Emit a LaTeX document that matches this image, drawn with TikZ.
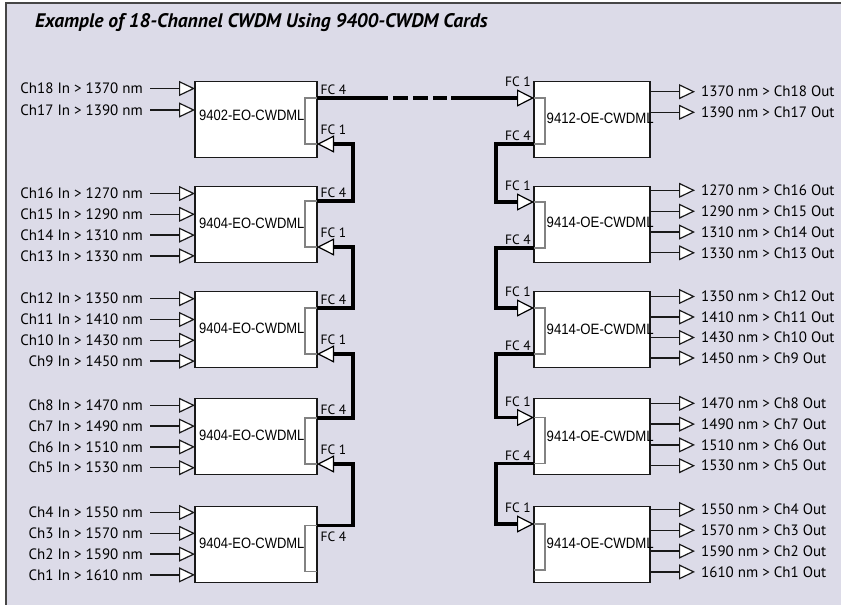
\documentclass[tikz,border=0pt]{standalone}
\usepackage{fontspec}
\setmainfont{PT Sans}
\newfontfamily\arl{Liberation Sans}
\usetikzlibrary{arrows.meta}
\definecolor{bgc}{RGB}{220,219,232}
\definecolor{portc}{RGB}{130,130,130}
\definecolor{linec}{RGB}{25,25,25}
\definecolor{framec}{RGB}{70,70,70}
\begin{document}
\begin{tikzpicture}[x=1pt,y=-1pt,
  lcard/.style={draw=linec,fill=white,line width=1.4pt,minimum width=122pt,minimum height=76pt,inner sep=0pt,outer sep=0pt,anchor=north west},
  rcard/.style={lcard,minimum width=116pt},
  lport/.style={minimum width=12pt,minimum height=46pt,inner sep=0pt,outer sep=0pt,anchor=north west},
  rport/.style={lport,minimum width=11pt},
  portline/.style={draw=portc,line width=1.2pt},
  cardtxt/.style={font=\arl\fontsize{15}{15}\selectfont,inner sep=0pt,anchor=base west},
  chtxt/.style={font=\fontsize{15}{16}\selectfont,inner sep=0pt},
  fctxt/.style={font=\fontsize{13.5}{14}\selectfont,inner sep=0pt},
  inarr/.style={draw=linec,line width=1.3pt,-{Triangle[fill=white,length=16pt,width=15pt,line width=1.2pt]}},
  chain/.style={draw=black,line width=3.2pt,-{Triangle[fill=white,length=17pt,width=17pt,line width=1.2pt]}}
]
\useasboundingbox (0,0) rectangle (841,605);
\fill[bgc] (6,3) rectangle (841,605);
\draw[framec,line width=1.5pt] (6,605) -- (6,3) -- (841,3);

\node[font=\bfseries\itshape\fontsize{19.6}{20}\selectfont,anchor=base west,inner sep=0pt] (title) at (35,27.5) {Example of 18-Channel CWDM Using 9400-CWDM Cards};

% left cards
\foreach \i/\T/\G/\lbl/\ly in {1/81.5/98/9402/120.5, 2/186.5/201/9404/228.7, 3/291.7/308/9404/333.7, 4/398.3/418/9404/440.4, 5/506.5/525.5/9404/548.7}{
  \node[lcard] (L\i) at (195,\T) {};
  \node[lport] (Lp\i) at (305,\G) {};
  \draw[portline] (Lp\i.north east) -| (Lp\i.south west) -- (Lp\i.south east);
  \node[cardtxt] (Lt\i) at (199,\ly) {\scalebox{0.865}[1]{\lbl-EO-CWDML}};
}
% right cards
\foreach \i/\T/\G/\lbl/\ly in {1/81.5/98/9412/123.7, 2/186.5/202/9414/227, 3/291.7/308/9414/334.4, 4/398.3/417.5/9414/441.4, 5/506.5/524/9414/548.4}{
  \node[rcard] (R\i) at (534,\T) {};
  \node[rport] (Rp\i) at (534,\G) {};
  \draw[portline] (Rp\i.north west) -| (Rp\i.south east) -- (Rp\i.south west);
  \node[cardtxt] (Rt\i) at (546.5,\ly) {\scalebox{0.88}[1]{\lbl-OE-CWDML}};
}

% inputs
\foreach \b/\y/\ch/\nm in {1/88.5/18/1370, 1/110/17/1390,
  2/193.5/16/1270, 2/214.3/15/1290, 2/235.1/14/1310, 2/255.9/13/1330,
  3/298.7/12/1350, 3/319.5/11/1410, 3/340.3/10/1430, 3/361.1/9/1450,
  4/405.3/8/1470, 4/426.1/7/1490, 4/446.9/6/1510, 4/467.7/5/1530,
  5/512.5/4/1550, 5/533.3/3/1570, 5/554.1/2/1590, 5/574.9/1/1610}{
  \coordinate (in\ch) at (150,\y);
  \node[chtxt,anchor=base east] (inl\ch) at (143,{\y+5.2}) {Ch\ch{} In > \nm{} nm};
  \draw[inarr] (in\ch) -- (in\ch -| L\b.west);
}

% outputs
\foreach \b/\y/\ch/\nm in {1/91.7/18/1370, 1/112.3/17/1390,
  2/190.3/16/1270, 2/211.2/15/1290, 2/232/14/1310, 2/252.8/13/1330,
  3/296.5/12/1350, 3/317/11/1410, 3/337.5/10/1430, 3/358/9/1450,
  4/403.3/8/1470, 4/424.1/7/1490, 4/444.9/6/1510, 4/465.7/5/1530,
  5/509.5/4/1550, 5/530.3/3/1570, 5/551.1/2/1590, 5/571.9/1/1610}{
  \coordinate (out\ch) at (695,\y);
  \draw[inarr] (R\b.east |- out\ch) -- (out\ch);
  \node[chtxt,anchor=base west] (outl\ch) at (701,{\y+5.2}) {\nm{} nm > Ch\ch{} Out};
}

% chains
\foreach \k/\n in {1/2,2/3,3/4,4/5}{
  \draw[chain] (Lp\n.north east) -- ++(36,0) |- (Lp\k.south east);
  \draw[chain] (Rp\k.south west) -- ++(-38,0) |- (Rp\n.north west);
}
\draw[chain,dash pattern=on 71pt off 5pt on 15pt off 5pt on 15pt off 5pt on 14pt off 4pt on 300pt] (Lp1.north east) -- (Rp1.north west);

% FC labels left
\foreach \i/\G in {1/98,2/201,3/308,4/418}{
  \node[fctxt,anchor=base west] (lf4\i) at (320.5,{\G-3.5}) {FC 4};
  \node[fctxt,anchor=base west] (lf1\i) at (320.5,{\G+36}) {FC 1};
}
\node[fctxt,anchor=base west] (lf45) at (320.5,541.5) {FC 4};
% FC labels right
\foreach \i/\G in {1/98,2/202,3/308,4/417.5}{
  \node[fctxt,anchor=base east] (rf1\i) at (531,{\G-11.5}) {FC 1};
  \node[fctxt,anchor=base east] (rf4\i) at (531,{\G+42.5}) {FC 4};
}
\node[fctxt,anchor=base east] (rf15) at (531,512.5) {FC 1};
\end{tikzpicture}
\end{document}
